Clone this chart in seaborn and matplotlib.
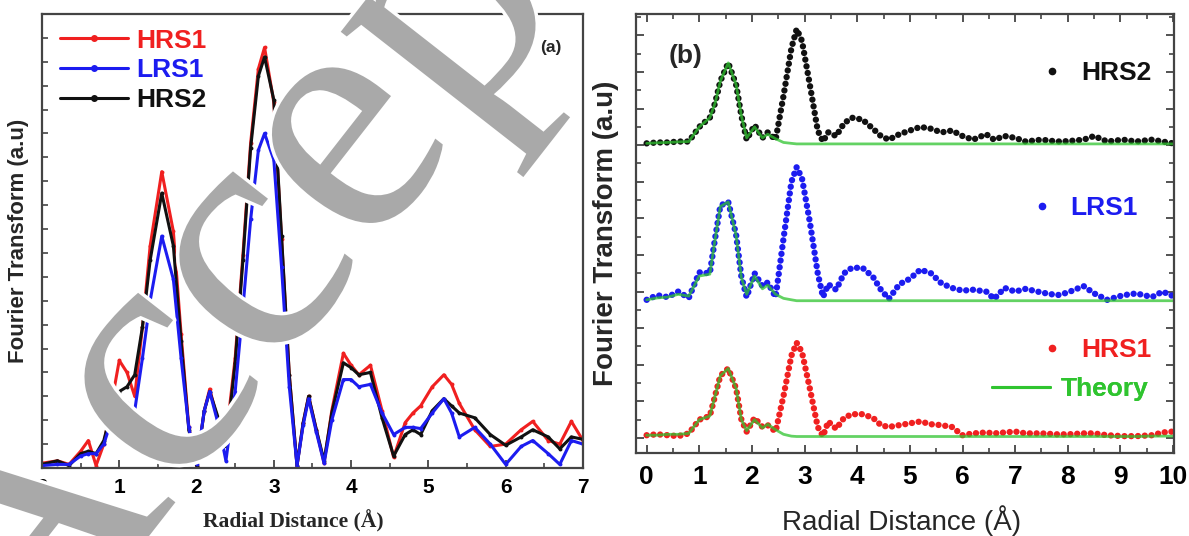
import numpy as np
import pandas as pd
import matplotlib
matplotlib.use("Agg")
import matplotlib.pyplot as plt
import seaborn as sns
from matplotlib.lines import Line2D
from matplotlib.ticker import MultipleLocator, FixedLocator
import matplotlib.patheffects as pe

# ---- panel (a) data: radial distance vs FT magnitude (a.u.) ----
r_a = [0, 0.2, 0.35, 0.5, 0.6, 0.7, 0.8, 0.9, 1.0, 1.1, 1.2, 1.3, 1.4, 1.55, 1.7, 1.8,
       1.9, 2.0, 2.1, 2.17, 2.3, 2.38, 2.5, 2.6, 2.7, 2.8, 2.88, 3.0, 3.1, 3.2, 3.3,
       3.38, 3.45, 3.55, 3.65, 3.75, 3.9, 4.0, 4.1, 4.25, 4.4, 4.55, 4.7, 4.8, 4.9,
       5.05, 5.2, 5.3, 5.4, 5.6, 5.8, 6.0, 6.2, 6.35, 6.55, 6.7, 6.85, 7.0]
hrs1_a = [0.2, 0.3, 0.15, 0.7, 1.15, 0.1, 1.0, 2.7, 4.5, 4.0, 3.0, 5.9, 9.3, 12.4, 9.9, 5.6,
          1.7, 0.1, 2.4, 3.3, 1.7, 1.2, 4.6, 8.9, 13.6, 16.7, 17.6, 15.3, 9.6, 3.9, 0.1,
          1.9, 3.0, 1.6, 0.2, 2.4, 4.8, 4.3, 3.9, 4.3, 2.4, 0.45, 1.9, 2.3, 2.6,
          3.4, 3.9, 3.5, 2.7, 1.6, 0.9, 1.0, 1.6, 1.95, 1.15, 1.0, 1.95, 1.15]
lrs1_a = [0.1, 0.15, 0.15, 0.5, 0.6, 0.6, 1.0, 2.0, 2.9, 2.7, 2.4, 4.6, 7.0, 9.7, 7.9, 4.6,
          1.7, 0.15, 2.4, 3.2, 1.6, 0.3, 3.2, 6.7, 10.4, 13.3, 14.0, 12.9, 8.4, 3.4, 0.1,
          1.8, 2.9, 1.5, 0.2, 2.0, 3.7, 3.7, 3.4, 3.5, 2.3, 1.4, 1.7, 1.7, 1.65,
          2.3, 2.9, 2.3, 1.3, 1.7, 1.0, 0.15, 0.9, 1.15, 0.6, 0.15, 1.15, 1.0]
hrs2_a = [0.15, 0.3, 0.1, 0.6, 0.7, 0.6, 1.15, 2.4, 3.2, 3.4, 3.9, 5.9, 8.7, 11.5, 9.3, 5.3,
          1.6, 0.1, 2.4, 3.2, 1.9, 0.9, 4.4, 8.7, 13.4, 16.4, 17.2, 15.4, 9.7, 3.9, 0.1,
          1.9, 3.0, 1.6, 0.3, 2.3, 4.4, 4.2, 3.9, 4.0, 2.1, 0.5, 1.4, 1.6, 1.4,
          2.4, 2.9, 2.6, 2.3, 2.1, 1.4, 0.95, 1.3, 1.6, 1.3, 0.8, 1.3, 1.2]

# ---- panel (b) data: experiment and theory, relative to each baseline ----
r_b = [0, 0.2, 0.4, 0.6, 0.8, 1.0, 1.2, 1.3, 1.4, 1.55, 1.7, 1.8, 1.9, 2.05, 2.2, 2.3,
       2.45, 2.6, 2.75, 2.85, 2.95, 3.1, 3.25, 3.35, 3.45, 3.6, 3.75, 3.9, 4.1, 4.3,
       4.45, 4.6, 4.8, 5.0, 5.2, 5.4, 5.6, 5.8, 6.0, 6.2, 6.45, 6.6, 6.8, 7.0, 7.2,
       7.5, 7.8, 8.0, 8.3, 8.5, 8.75, 9.05, 9.3, 9.6, 9.8, 10.0]
hrs2_b = [0, 0.05, 0.05, 0.1, 0.1, 0.9, 1.4, 2.2, 3.4, 4.4, 3.2, 1.5, 0.2, 1.0, 0.3, 0.6,
          0.2, 2.6, 5.2, 6.25, 5.6, 3.2, 0.7, 0.1, 0.6, 0.4, 1.1, 1.4, 1.3, 0.8,
          0.4, 0.2, 0.5, 0.7, 0.9, 0.8, 0.6, 0.7, 0.4, 0.2, 0.5, 0.2, 0.4, 0.3, 0.1,
          0.2, 0.1, 0.12, 0.2, 0.4, 0.1, 0.2, 0.1, 0.2, 0.1, 0.0]
hrs2_th = [0, 0.03, 0.05, 0.08, 0.1, 0.9, 1.4, 2.2, 3.4, 4.4, 3.2, 1.5, 0.3, 0.9, 0.3, 0.5,
           0.25, 0.05, 0, -0.03, -0.03, -0.03, -0.03, -0.03, -0.03, -0.03, -0.03, -0.03, -0.03, -0.03,
           -0.03, -0.03, -0.03, -0.03, -0.03, -0.03, -0.03, -0.03, -0.03, -0.03, -0.03, -0.03, -0.03, -0.03, -0.03,
           -0.03, -0.03, -0.03, -0.03, -0.03, -0.03, -0.03, -0.03, -0.03, -0.03, -0.03]
lrs1_b = [0, 0.25, 0.15, 0.45, 0.1, 1.5, 1.45, 3.35, 5.15, 5.35, 3.55, 1.25, 0.15, 1.45, 0.75, 0.95,
          0.15, 3.35, 6.45, 7.25, 6.65, 4.25, 1.45, 0.15, 0.85, 0.55, 1.45, 1.75, 1.75, 1.25,
          0.55, 0.05, 0.85, 1.15, 1.65, 1.45, 0.9, 0.65, 0.5, 0.55, 0.45, 0.05, 0.65, 0.45, 0.6,
          0.4, 0.25, 0.4, 0.75, 0.35, 0.0, 0.25, 0.35, 0.15, 0.45, 0.2]
lrs1_th = [0, 0.1, 0.15, 0.3, 0.2, 1.3, 1.4, 3.3, 5.1, 5.35, 3.5, 1.2, 0.3, 1.3, 0.6, 0.8,
           0.3, 0.08, 0, -0.05, -0.05, -0.05, -0.05, -0.05, -0.05, -0.05, -0.05, -0.05, -0.05, -0.05,
           -0.05, -0.05, -0.05, -0.05, -0.05, -0.05, -0.05, -0.05, -0.05, -0.05, -0.05, -0.05, -0.05, -0.05, -0.05,
           -0.05, -0.05, -0.05, -0.05, -0.05, -0.05, -0.05, -0.05, -0.05, -0.05, -0.05]
hrs1_b = [0.15, 0.2, 0.15, 0.1, 0.25, 1.0, 1.2, 2.3, 3.4, 3.8, 2.7, 1.0, 0.35, 1.1, 0.6, 0.7,
          0.35, 2.3, 4.5, 5.2, 4.7, 2.7, 0.6, 0.1, 0.9, 0.5, 1.1, 1.3, 1.3, 1.1,
          0.7, 0.6, 0.7, 0.8, 0.9, 0.75, 0.7, 0.6, 0.15, 0.25, 0.3, 0.25, 0.3, 0.35, 0.25,
          0.25, 0.2, 0.2, 0.25, 0.25, 0.15, 0.1, 0.1, 0.15, 0.3, 0.35]
hrs1_th = [0.15, 0.15, 0.2, 0.2, 0.25, 1.0, 1.2, 2.3, 3.4, 3.8, 2.7, 1.0, 0.4, 1.0, 0.55, 0.75,
           0.45, 0.2, 0.1, 0.08, 0.08, 0.08, 0.08, 0.08, 0.08, 0.08, 0.08, 0.08, 0.08, 0.08,
           0.08, 0.08, 0.08, 0.08, 0.08, 0.08, 0.08, 0.08, 0.08, 0.08, 0.08, 0.08, 0.08, 0.08, 0.08,
           0.08, 0.08, 0.08, 0.08, 0.08, 0.08, 0.08, 0.08, 0.1, 0.1, 0.1]

# vertical stacking offsets for panel (b)
OFFSETS = {"HRS1": 0.0, "LRS1": 7.55, "HRS2": 16.1}

RED = "#f02020"
BLUE = "#1c1cf0"
BLACK = "#111111"
GREEN = "#2fc42f"

sns.set_theme(style="ticks")
plt.rcParams["font.family"] = ["Liberation Sans", "DejaVu Sans"]
plt.rcParams["axes.edgecolor"] = "#444444"
plt.rcParams["axes.linewidth"] = 1.6

fig = plt.figure(figsize=(11.89, 5.36), dpi=100)
ax1 = fig.add_axes([0.0353, 0.1269, 0.455, 0.847])
ax2 = fig.add_axes([0.535, 0.1549, 0.4525, 0.819])

# ---------- panel (a) ----------
df_a = pd.DataFrame({"r": r_a, "HRS1": hrs1_a, "LRS1": lrs1_a, "HRS2": hrs2_a})
for name, col in [("HRS1", RED), ("HRS2", BLACK), ("LRS1", BLUE)]:
    sns.lineplot(data=df_a, x="r", y=name, ax=ax1, color=col, lw=2.2,
                 marker="o", markersize=2.8, markeredgewidth=0, sort=False,
                 estimator=None, legend=False)

ax1.set_xlim(0, 7)
ax1.set_ylim(0, 19)
ax1.xaxis.set_major_locator(MultipleLocator(1))
ax1.xaxis.set_minor_locator(MultipleLocator(0.5))
ax1.yaxis.set_major_locator(FixedLocator(np.arange(1, 19)))
ax1.set_yticklabels([])
ax1.tick_params(axis="x", which="major", direction="in", length=6, width=1.3,
                labelsize=15, pad=7, colors="#444444", labelcolor="black")
ax1.tick_params(axis="x", which="minor", direction="in", length=3.5, width=1.2, colors="#444444")
ax1.tick_params(axis="y", which="major", direction="in", length=4, width=1.2, colors="#444444")
for lab in ax1.get_xticklabels():
    lab.set_fontweight("bold")
ax1.set_xlabel("Radial Distance (Å)", family=["Liberation Serif", "DejaVu Serif"],
               fontweight="bold", fontsize=15.5)
ax1.set_ylabel("Fourier Transform (a.u)", fontweight="bold", fontsize=16)
ax1.xaxis.label.set_va("center")
ax1.yaxis.label.set_va("center")
ax1.xaxis.set_label_coords(0.464, -0.117)
ax1.yaxis.set_label_coords(-0.044, 0.5)

handles_a = [Line2D([], [], color=c, lw=2.2, marker="o", ms=4) for c in (RED, BLUE, BLACK)]
ax1.legend(handles_a, ["HRS1", "LRS1", "HRS2"], loc="upper left",
           bbox_to_anchor=(0.033, 0.968), frameon=False, borderpad=0,
           borderaxespad=0, handlelength=2.6, handletextpad=0.3,
           labelspacing=0.22, labelcolor=[RED, BLUE, BLACK],
           prop={"weight": "bold", "size": 19})
ax1.text(0.94, 0.927, "(a)", transform=ax1.transAxes, fontsize=12.5,
         fontweight="bold", ha="center", va="center")

# ---------- panel (b) ----------
dotted = dict(lw=4.6, linestyle=(0, (0.01, 1.05)), dash_capstyle="round")
for name, vals, th, col in [("HRS2", hrs2_b, hrs2_th, BLACK),
                            ("LRS1", lrs1_b, lrs1_th, BLUE),
                            ("HRS1", hrs1_b, hrs1_th, RED)]:
    off = OFFSETS[name]
    d = pd.DataFrame({"r": r_b, "exp": np.array(vals) + off, "th": np.array(th) + off})
    sns.lineplot(data=d, x="r", y="exp", ax=ax2, color=col, sort=False,
                 estimator=None, legend=False, **dotted)
    sns.lineplot(data=d, x="r", y="th", ax=ax2, color=GREEN, lw=2.0, alpha=0.75,
                 sort=False, estimator=None, legend=False)

ax2.set_xlim(-0.2, 10.02)
ax2.set_ylim(-0.82, 23.17)
ax2.xaxis.set_major_locator(MultipleLocator(1))
ax2.xaxis.set_minor_locator(MultipleLocator(0.5))
ax2.yaxis.set_major_locator(MultipleLocator(2))
ax2.yaxis.set_minor_locator(MultipleLocator(1))
ax2.set_yticklabels([])
ax2.tick_params(axis="both", which="major", direction="in", length=6, width=1.3,
                top=True, right=True, colors="#444444", labelcolor="black")
ax2.tick_params(axis="both", which="minor", direction="in", length=3.5, width=1.2,
                top=True, right=True, colors="#444444")
ax2.tick_params(axis="x", labelsize=19, pad=9)
for lab in ax2.get_xticklabels():
    lab.set_fontweight("bold")
ax2.set_xlabel("Radial Distance (Å)", fontsize=20)
ax2.set_ylabel("Fourier Transform (a.u)", fontweight="bold", fontsize=20)
ax2.xaxis.label.set_va("center")
ax2.yaxis.label.set_va("center")
ax2.xaxis.set_label_coords(0.493, -0.155)
ax2.yaxis.set_label_coords(-0.056, 0.5)
ax2.text(0.06, 0.905, "(b)", transform=ax2.transAxes, fontsize=19,
         fontweight="bold", ha="left", va="center")


def side_legend(ax, handle, label, color, x, y, hl, pad):
    leg = ax.legend([handle], [label], loc="center right", bbox_to_anchor=(x, y),
                    frameon=False, borderpad=0, borderaxespad=0, handlelength=hl,
                    handletextpad=pad, labelcolor=color,
                    prop={"weight": "bold", "size": 19})
    ax.add_artist(leg)


dot = lambda c: Line2D([], [], color=c, ls="none", marker="o", ms=4.5)
side_legend(ax2, dot(BLACK), "HRS2", BLACK, 0.957, 0.866, 1.0, 0.6)
side_legend(ax2, dot(BLUE), "LRS1", BLUE, 0.933, 0.558, 1.0, 0.6)
side_legend(ax2, dot(RED), "HRS1", RED, 0.957, 0.235, 1.0, 0.6)
side_legend(ax2, Line2D([], [], color=GREEN, lw=2.2), "Theory", GREEN, 0.952, 0.146, 2.2, 0.4)

# "Accepted" watermark stamped over the figure
fig.text(0.019, -0.302, "Accepted", rotation=52, rotation_mode="anchor",
         ha="left", va="baseline", fontsize=250, color="#a9a9a9",
         family=["Liberation Serif", "DejaVu Serif"], zorder=20,
         path_effects=[pe.withStroke(linewidth=5, foreground="white")])

fig.savefig("out.png", dpi=100)
